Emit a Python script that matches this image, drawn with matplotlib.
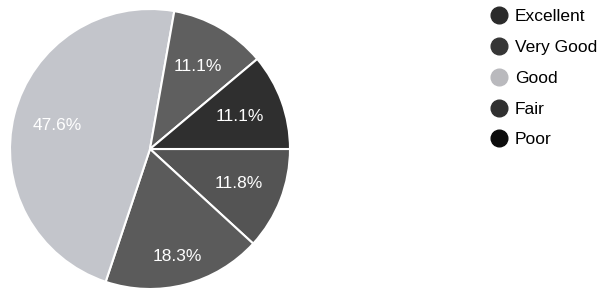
import matplotlib
matplotlib.use("Agg")
import matplotlib.pyplot as plt
from matplotlib.lines import Line2D

# ratings, drawn clockwise starting at 3 o'clock
categories = ["Excellent", "Very Good", "Good", "Fair", "Poor"]
shares = [11.8, 18.3, 47.6, 11.1, 11.1]

slice_colors = ["#545454", "#5b5b5b", "#c3c5cb", "#5f5f5f", "#2f2f2f"]
legend_colors = ["#2b2b2b", "#363636", "#b9b9bd", "#303030", "#0c0c0c"]

plt.rcParams["font.family"] = ["Liberation Sans", "DejaVu Sans"]

fig = plt.figure(figsize=(6.06, 2.92), dpi=100)
fig.patch.set_facecolor("white")

# pie centred at (150, 149) px, radius 140 px
ax = fig.add_axes([10 / 606, 3 / 292, 280 / 606, 280 / 292])
wedges, texts, autotexts = ax.pie(
    shares,
    colors=slice_colors,
    startangle=0,
    counterclock=False,
    autopct="%.1f%%",
    pctdistance=0.68,
    wedgeprops=dict(edgecolor="white", linewidth=1.5),
    textprops=dict(color="white", fontsize=12.5),
)
# Excel's best fit pushes the 18.3% label a bit outward
x, y = autotexts[1].get_position()
autotexts[1].set_position((x * 0.79 / 0.68, y * 0.79 / 0.68))

ax.set_xlim(-1, 1)
ax.set_ylim(-1, 1)
ax.set_aspect("equal")
ax.axis("off")

handles = [Line2D([], [], marker="o", linestyle="none", markersize=12,
                  markerfacecolor=c, markeredgecolor=c) for c in legend_colors]
fig.legend(handles, categories, loc="upper left",
           bbox_to_anchor=(476 / 606, 1 + 3 / 292),
           frameon=False, fontsize=12.5, labelspacing=0.9,
           handletextpad=0.35, handlelength=1.2, borderpad=0.2)

fig.savefig("out.png", dpi=100)
